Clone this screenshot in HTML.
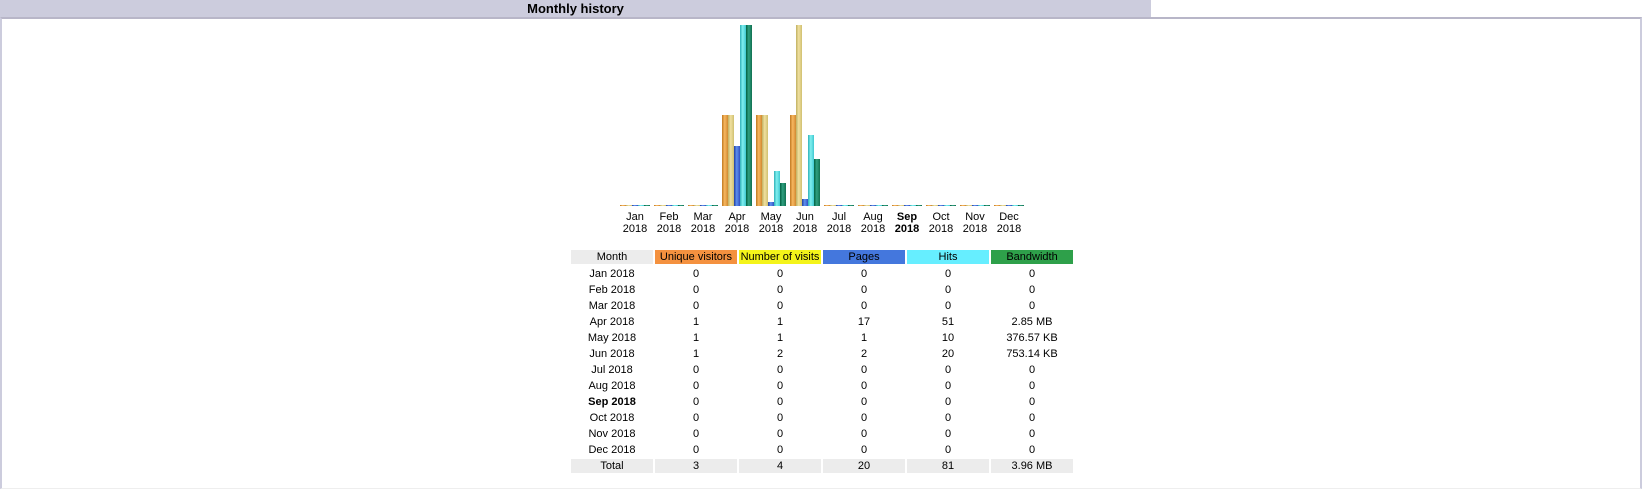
<!DOCTYPE html>
<html><head><meta charset="utf-8"><style>
body{margin:0;width:1643px;height:490px;background:#fff;font-family:"Liberation Sans",sans-serif;position:relative;overflow:hidden}
.hd{position:absolute;left:0;top:0;width:1151px;height:17px;background:#ccccdd;font-weight:bold;font-size:13px;text-align:center;line-height:17px}
.box{position:absolute;left:0;top:17px;width:1642px;height:472px;border-top:2px solid #b8b6c8;border-left:2px solid #ccccdd;border-right:2px solid #ccccdd;border-bottom:1px solid #eee;box-sizing:border-box}
.b{position:absolute;width:6px}
.v{background:linear-gradient(90deg,#c07820,#f8b860 45%,#d08830)}
.n{background:linear-gradient(90deg,#c0b060,#f0e0a0 45%,#d0c070)}
.p{background:linear-gradient(90deg,#2040a0,#6090f0 45%,#3050c0)}
.h{background:linear-gradient(90deg,#30b0b8,#80f0f0 45%,#40c8d0)}
.w{background:linear-gradient(90deg,#006040,#30a080 45%,#107050)}
.ml{position:absolute;width:34px;text-align:center;font-size:11px;line-height:12px;top:211px}
.c{position:absolute;height:14px;width:82px;text-align:center;font-size:11px;line-height:14px}
</style></head><body>
<div class="hd">Monthly history</div>
<div class="box"></div>
<div id="g"></div>
<script>
var V=[0,0,0,1,1,1,0,0,0,0,0,0],N=[0,0,0,1,1,2,0,0,0,0,0,0],P=[0,0,0,17,1,2,0,0,0,0,0,0],H=[0,0,0,51,10,20,0,0,0,0,0,0],W=[0,0,0,2918,376.57,753.14,0,0,0,0,0,0];
var M=["Jan","Feb","Mar","Apr","May","Jun","Jul","Aug","Sep","Oct","Nov","Dec"];
var s="",base=206,mx=181;
function bar(x,c,val,max){var h=val?Math.round(val/max*mx):1;s+='<div class="b '+c+'" style="left:'+x+'px;top:'+(base-h)+'px;height:'+h+'px"></div>';}
for(var i=0;i<12;i++){var x=620+34*i;
bar(x,'v',V[i],2);bar(x+6,'n',N[i],2);bar(x+12,'p',P[i],51);bar(x+18,'h',H[i],51);bar(x+24,'w',W[i],2918);
s+='<div class="ml" style="left:'+(x-2)+'px;'+(i==8?'font-weight:bold':'')+'">'+M[i]+'<br>2018</div>';}
var cols=[571,655,739,823,907,991];
var hdr=[["Month","#ececec"],["Unique visitors","#f4913f"],["Number of visits","#f4f41a"],["Pages","#4477dd"],["Hits","#66eeff"],["Bandwidth","#2ea04a"]];
for(var j=0;j<6;j++)s+='<div class="c" style="left:'+cols[j]+'px;top:250px;background:'+hdr[j][1]+'">'+hdr[j][0]+'</div>';
var bw=["0","0","0","2.85 MB","376.57 KB","753.14 KB","0","0","0","0","0","0"];
for(var i=0;i<12;i++){var y=267+16*i;var row=[M[i]+" 2018",V[i],N[i],P[i],H[i],bw[i]];
for(var j=0;j<6;j++)s+='<div class="c" style="left:'+cols[j]+'px;top:'+y+'px;'+(i==8&&j==0?'font-weight:bold':'')+'">'+row[j]+'</div>';}
var tot=["Total","3","4","20","81","3.96 MB"];
for(var j=0;j<6;j++)s+='<div class="c" style="left:'+cols[j]+'px;top:459px;background:#ececec">'+tot[j]+'</div>';
document.getElementById('g').innerHTML=s;
</script>
</body></html>
